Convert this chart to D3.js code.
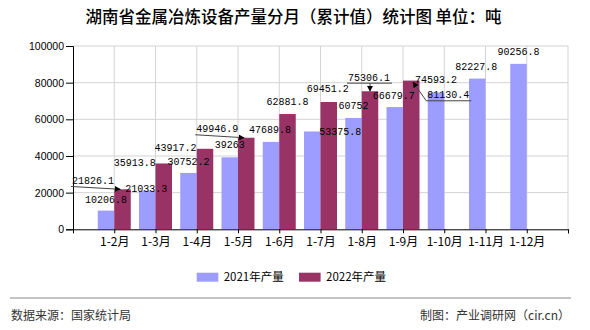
<!DOCTYPE html>
<html><head><meta charset="utf-8">
<script src="https://cdn.jsdelivr.net/npm/d3@7/dist/d3.min.js"></script>
<style>
body{margin:0;background:#fff;}
svg{display:block;}
</style></head>
<body>
<svg id="chart" width="590" height="330"></svg>
<script>
const titleText = "湖南省金属冶炼设备产量分月（累计值）统计图 单位：吨";
const categories = ["1-2月","1-3月","1-4月","1-5月","1-6月","1-7月","1-8月","1-9月","1-10月","1-11月","1-12月"];
const values2021 = [10206.8,21033.3,30752.2,39263,47689.8,53375.8,60752,66679.7,74593.2,82227.8,90256.8];
const values2022 = [21826.1,35913.8,43917.2,49946.9,62881.8,69451.2,75306.1,81130.4];
const seriesNames = ["2021年产量","2022年产量"];
const yTicks = [0,20000,40000,60000,80000,100000];
const sourceText = "数据来源：国家统计局";
const creditText = "制图：产业调研网（cir.cn）";

// label layout offsets (dx, dy) relative to bar top centre
const layout2021 = [[0,-12],[-1,-3],[0,-12],[0,-13],[-1,-12.6],[28,0],[0,-13],[-1,-12],[0,-13.3],[-1,-12.6],[0,-13]];
const layout2022 = [[-29.5,-9.3],[-29,-1],[-29.5,-1.5],[-29,-9.5],[0,-13],[-1,-13.7],[-1,-14.6],[37,13.7]];

const colors = ["#9d9dff","#993366"];
const svg = d3.select("#chart");
const pLeft = 73, pRight = 568, pTop = 46, pBottom = 229.3;

const x = d3.scalePoint().domain(["_s", ...categories, "_e"]).range([pLeft, pRight]);
const y = d3.scaleLinear().domain([0, 100000]).range([pBottom, pTop]);
const bw = 16.5;

// gridlines
const grid = svg.append("g");
grid.selectAll("line.h").data(yTicks.slice(1)).join("line").attr("class", "h")
  .attr("x1", pLeft).attr("x2", pRight).attr("y1", d => y(d)).attr("y2", d => y(d))
  .attr("stroke", "#d3d3d3").attr("stroke-width", 1);
grid.selectAll("line.v").data([...categories, "_e"]).join("line").attr("class", "v")
  .attr("x1", d => x(d)).attr("x2", d => x(d)).attr("y1", pTop).attr("y2", pBottom)
  .attr("stroke", "#d3d3d3").attr("stroke-width", 1);

// bars
svg.append("g").selectAll("rect").data(values2021).join("rect")
  .attr("x", (d, i) => x(categories[i]) - bw).attr("width", bw)
  .attr("y", d => y(d)).attr("height", d => pBottom - y(d)).attr("fill", colors[0]);
svg.append("g").selectAll("rect").data(values2022).join("rect")
  .attr("x", (d, i) => x(categories[i])).attr("width", bw)
  .attr("y", d => y(d)).attr("height", d => pBottom - y(d)).attr("fill", colors[1]);

// axes
const yAxis = d3.axisLeft(y).tickValues(yTicks).tickSize(7).tickPadding(2).tickFormat(d3.format("d"));
const yg = svg.append("g").attr("transform", `translate(${pLeft},0)`).call(yAxis);
yg.select(".domain").attr("stroke", "#000");
yg.selectAll("text").attr("font-family", "Liberation Sans, Arial, sans-serif").attr("font-size", 10.5).attr("fill", "#000");

const xAxis = d3.axisBottom(x).tickValues([...categories, "_e"]).tickSize(4).tickPadding(4).tickFormat(d => d === "_e" ? "" : d);
const xg = svg.append("g").attr("transform", `translate(0,${pBottom})`).call(xAxis);
xg.select(".domain").attr("stroke", "#000");
xg.selectAll("text").attr("font-family", "Noto Sans CJK SC, sans-serif").attr("font-size", 12).attr("fill", "#000");

// data labels
const fmt = v => String(v);
const lab = svg.append("g").attr("font-family", "Liberation Mono, monospace").attr("font-size", 11).attr("fill", "#000").attr("text-anchor", "middle");
function addLabel(v, cx, cy) {
  const s = fmt(v);
  lab.append("text").attr("x", cx).attr("y", cy).attr("dy", "0.36em")
    .attr("textLength", s.length * 6).attr("lengthAdjust", "spacingAndGlyphs").text(s);
}
values2021.forEach((v, i) => {
  const cx = x(categories[i]) - bw / 2, ty = y(v);
  addLabel(v, cx + layout2021[i][0], ty + layout2021[i][1]);
});
values2022.forEach((v, i) => {
  const cx = x(categories[i]) + bw / 2, ty = y(v);
  addLabel(v, cx + layout2022[i][0], ty + layout2022[i][1]);
});

// leader lines with arrows
const defs = svg.append("defs");
defs.append("marker").attr("id", "arr").attr("viewBox", "0 0 10 10").attr("refX", 9).attr("refY", 5)
  .attr("markerWidth", 6).attr("markerHeight", 6).attr("orient", "auto-start-reverse").attr("markerUnits", "userSpaceOnUse")
  .append("path").attr("d", "M0,0 L10,5 L0,10 z").attr("fill", "#000");
const lead = svg.append("g").attr("fill", "none").attr("stroke", "#444").attr("stroke-width", 1);
function labelBox(i) {
  const v = values2022[i];
  const cx = x(categories[i]) + bw / 2 + layout2022[i][0];
  const cy = y(v) + layout2022[i][1];
  const w = String(v).length * 6;
  return {l: cx - w / 2 - 1, r: cx + w / 2 + 2, c: cx, uy: cy + 6.5};
}
[0, 3].forEach(i => {
  const b = labelBox(i);
  const tx = x(categories[i]) + 6, ty = y(values2022[i]);
  lead.append("path").attr("d", `M${b.l},${b.uy} L${tx},${ty}`).attr("marker-end", "url(#arr)");
});
{
  const i = 6, b = labelBox(i);
  lead.append("path").attr("d", `M${b.l},${b.uy} L${b.r},${b.uy}`);
  const tx = x(categories[i]) + bw / 2;
  lead.append("path").attr("d", `M${tx},${b.uy} L${tx},${y(values2022[i])}`).attr("marker-end", "url(#arr)");
}
{
  const i = 7, b = labelBox(i);
  const tx = x(categories[i]) + 10, ty = y(values2022[i]) + 1.5;
  lead.append("path").attr("d", `M${b.r},${b.uy} L${b.l},${b.uy} L${tx},${ty}`).attr("marker-end", "url(#arr)");
}

// title
svg.append("text").attr("x", 293.5).attr("y", 17).attr("dy", "0.36em").attr("text-anchor", "middle")
  .attr("font-family", "Noto Sans CJK SC, sans-serif").attr("font-size", 16.5).attr("font-weight", 500)
  .attr("fill", "#000").text(titleText);

// legend
const lg = svg.append("g").attr("font-family", "Noto Sans CJK SC, sans-serif").attr("font-size", 11.5);
const legX = [196.7, 299];
seriesNames.forEach((n, i) => {
  lg.append("rect").attr("x", legX[i]).attr("y", 272.7).attr("width", 21.6).attr("height", 9).attr("fill", colors[i]);
  lg.append("text").attr("x", legX[i] + 27).attr("y", 277.3).attr("dy", "0.36em").attr("fill", "#000").text(n);
});

// footer
svg.append("line").attr("x1", 10).attr("x2", 571).attr("y1", 298).attr("y2", 298).attr("stroke", "#888").attr("stroke-width", 1);
svg.append("text").attr("x", 11).attr("y", 316).attr("dy", "0.36em").attr("font-family", "Noto Sans CJK SC, sans-serif")
  .attr("font-size", 12).attr("fill", "#333").text(sourceText);
svg.append("text").attr("x", 570).attr("y", 316).attr("dy", "0.36em").attr("text-anchor", "end").attr("font-family", "Noto Sans CJK SC, sans-serif")
  .attr("font-size", 12).attr("fill", "#333").text(creditText);
</script>
</body></html>
